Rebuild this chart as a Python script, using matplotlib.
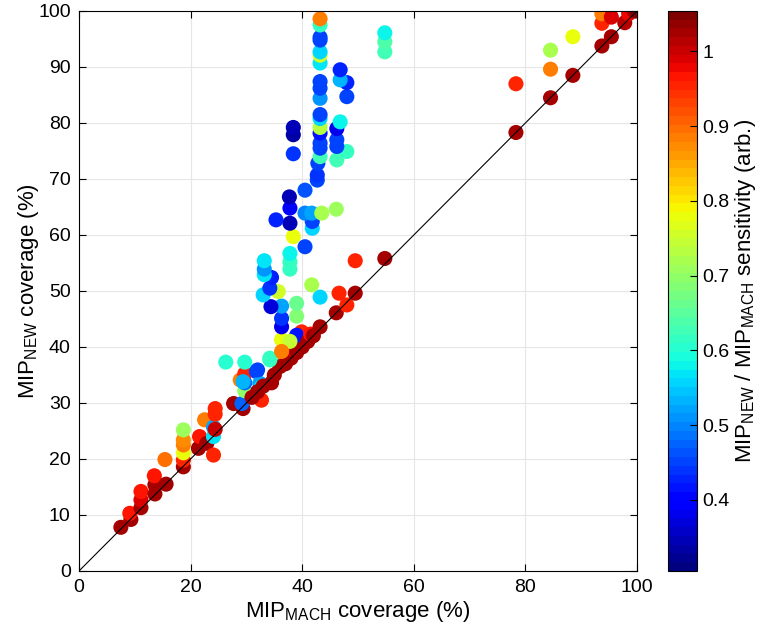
"""Scatter of MIP_NEW vs MIP_MACH coverage, coloured by relative sensitivity."""

import matplotlib

matplotlib.use("Agg")
import matplotlib.pyplot as plt
import numpy as np

plt.rcParams["font.family"] = ["Liberation Sans", "DejaVu Sans"]
plt.rcParams["mathtext.default"] = "regular"

mach_cov = [
    7.5, 9.3, 9.1, 11.1, 11.1, 11.1, 13.6, 13.6, 13.5, 15.6, 15.4,
    18.7, 18.7, 18.7, 18.7, 18.7, 18.7, 21.4, 21.6, 22.5, 22.9,
    24.1, 24.1, 24.1, 24.4, 24.4, 24.4, 26.3, 27.7, 29.4, 29.2,
    29.7, 29.7, 28.9, 29.7, 29.7, 29.4, 31.8, 32.7, 32.4, 32.7,
    31.0, 32.0, 33.0, 34.5, 34.2, 35.0, 36.0, 36.6, 37.0, 38.0,
    38.5, 39.0, 40.0, 39.9, 39.0, 36.3, 37.8, 41.0, 41.5, 42.0,
    43.2, 46.1, 48.0, 46.6, 49.5, 49.5, 54.8,
    32.0, 34.2, 36.3, 36.3, 36.3, 39.0, 39.0, 36.3, 34.4, 33.0,
    35.7, 34.2, 34.5, 33.2, 33.2, 33.2, 43.2, 41.7, 37.8, 37.8,
    37.8, 40.5, 38.4, 41.8, 37.8, 41.8, 35.3, 40.5, 41.7, 43.5,
    46.1, 37.8, 37.7, 40.5, 42.7, 42.7, 42.8, 38.4, 43.2, 43.2,
    43.2, 43.2, 43.2, 38.4, 38.4, 43.2, 43.2, 43.2, 43.2, 43.2,
    43.2, 43.2, 43.2, 43.2, 43.2, 43.2, 43.2, 46.2, 48.0, 46.2,
    46.2, 46.2, 46.8, 48.0, 48.0, 46.8, 46.8, 54.8, 54.8, 54.8,
    78.3, 78.3, 84.5, 84.5, 84.5, 88.5, 88.5, 93.7, 95.4, 93.7,
    93.7, 95.4, 97.8, 98.5, 99.5, 100.0,
]
new_cov = [
    7.8, 9.2, 10.3, 11.3, 12.7, 14.2, 13.75, 15.4, 17.0, 15.5, 19.9,
    18.6, 19.8, 21.1, 22.5, 23.4, 25.2, 21.9, 24.0, 27.0, 22.8,
    20.7, 24.0, 25.7, 25.3, 28.0, 29.0, 37.3, 29.9, 29.0, 29.9,
    32.2, 33.6, 34.1, 35.2, 37.3, 33.8, 35.6, 30.5, 33.5, 32.9,
    31.0, 32.0, 33.0, 33.6, 38.0, 35.0, 36.5, 38.9, 37.0, 38.0,
    39.5, 39.0, 40.0, 42.7, 42.1, 41.3, 41.0, 41.0, 42.3, 42.0,
    43.6, 46.1, 47.5, 49.6, 49.6, 55.4, 55.8,
    35.9, 37.7, 39.2, 43.6, 45.1, 45.5, 47.8, 47.3, 47.2, 49.3,
    49.9, 50.5, 52.4, 52.9, 53.9, 55.4, 48.9, 51.1, 53.9, 55.2,
    56.7, 57.9, 59.7, 61.2, 62.1, 62.4, 62.7, 63.9, 63.9, 63.9,
    64.6, 64.8, 66.8, 68.0, 69.8, 70.7, 72.8, 74.5, 74.0, 75.5,
    76.4, 78.2, 79.2, 77.9, 79.2, 80.8, 81.5, 84.4, 86.2, 87.4,
    90.7, 92.1, 92.7, 94.8, 95.3, 97.5, 98.6, 73.4, 74.9, 75.8,
    77.0, 79.0, 80.2, 84.7, 87.2, 87.7, 89.5, 92.7, 94.5, 96.1,
    78.3, 87.0, 84.5, 89.6, 93.0, 88.5, 95.4, 93.75, 95.4, 97.8,
    99.5, 98.9, 97.9, 99.5, 100.0, 100.0,
]
sensitivity = [
    1.03, 1.02, 0.97, 1.03, 0.99, 0.97, 1.02, 1.02, 0.97, 1.03, 0.90,
    1.02, 0.96, 0.78, 0.88, 0.87, 0.71, 1.02, 0.97, 0.89, 1.02,
    0.96, 0.57, 0.52, 1.00, 0.96, 0.96, 0.60, 1.03, 1.02, 0.48,
    0.70, 0.47, 0.88, 0.95, 0.60, 0.53, 0.45, 0.96, 0.52, 0.57,
    1.02, 1.02, 1.02, 1.03, 0.61, 1.02, 1.03, 0.89, 1.02, 1.02,
    0.97, 1.03, 1.02, 0.96, 0.42, 0.78, 0.74, 1.02, 0.97, 1.02,
    1.03, 1.03, 0.96, 0.96, 1.03, 0.96, 1.02,
    0.45, 0.62, 0.88, 0.38, 0.44, 0.69, 0.66, 0.52, 0.37, 0.56,
    0.75, 0.44, 0.43, 0.57, 0.51, 0.57, 0.56, 0.72, 0.62, 0.62,
    0.58, 0.45, 0.78, 0.56, 0.35, 0.45, 0.43, 0.50, 0.52, 0.72,
    0.71, 0.40, 0.35, 0.46, 0.45, 0.44, 0.45, 0.44, 0.63, 0.45,
    0.45, 0.42, 0.73, 0.34, 0.35, 0.56, 0.45, 0.51, 0.45, 0.45,
    0.57, 0.76, 0.56, 0.45, 0.45, 0.62, 0.88, 0.63, 0.62, 0.45,
    0.45, 0.38, 0.58, 0.45, 0.43, 0.53, 0.43, 0.63, 0.64, 0.58,
    1.02, 0.96, 1.02, 0.89, 0.72, 1.02, 0.78, 1.02, 1.02, 0.96,
    0.88, 0.99, 1.01, 0.98, 1.03, 1.054,
]

cov_ticks = [0, 10, 20, 30, 40, 50, 60, 70, 80, 90, 100]
cov_xticks = [0, 20, 40, 60, 80, 100]
sens_ticks = [0.4, 0.5, 0.6, 0.7, 0.8, 0.9, 1.0]
sens_labels = ["0.4", "0.5", "0.6", "0.7", "0.8", "0.9", "1"]
sens_min, sens_max = 0.305, 1.054

fig = plt.figure(figsize=(7.8, 6.34), dpi=100)
ax = fig.add_axes([0.1013, 0.0994, 0.7154, 0.8833])
cax = fig.add_axes([0.8564, 0.0994, 0.0372, 0.8833])

cmap = plt.get_cmap("jet", 64)
sc = ax.scatter(
    mach_cov, new_cov, c=sensitivity, cmap=cmap, vmin=sens_min, vmax=sens_max,
    s=118, edgecolors="none", zorder=2,
)
ax.plot([0, 100], [0, 100], color="black", lw=0.8, zorder=3)

ax.set_xlim(0, 100)
ax.set_ylim(0, 100)
ax.set_xticks(cov_xticks)
ax.set_yticks(cov_ticks)
ax.grid(True, color="#e6e6e6", lw=0.8, zorder=0)
ax.set_axisbelow(True)
ax.tick_params(direction="in", length=5, width=0.8, top=True, right=True,
               labelsize=14, pad=6)
for sp in ax.spines.values():
    sp.set_linewidth(0.8)

label_kw = dict(fontsize=16)
ax.set_xlabel(r"MIP$_{MACH}$ coverage (%)", labelpad=2, **label_kw)
ax.set_ylabel(r"MIP$_{NEW}$ coverage (%)", labelpad=-2, **label_kw)

cbar = fig.colorbar(sc, cax=cax, ticks=sens_ticks)
cbar.ax.set_yticklabels(sens_labels)
cbar.ax.tick_params(direction="in", length=5, width=0.8, labelsize=14, pad=4)
cbar.outline.set_linewidth(0.8)
cbar.set_label(r"MIP$_{NEW}$ / MIP$_{MACH}$ sensitivity (arb.)", labelpad=2,
               **label_kw)

fig.savefig("out.png", dpi=100)
